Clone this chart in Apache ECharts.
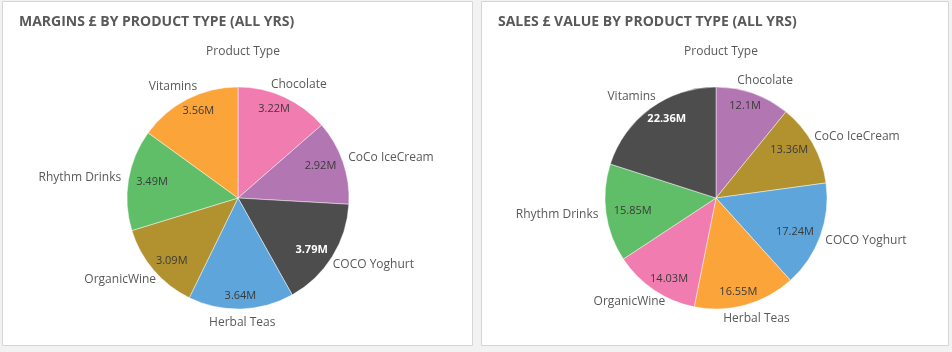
<!DOCTYPE html>
<html>
<head>
<meta charset="utf-8">
<script src="https://cdn.jsdelivr.net/npm/echarts@6/dist/echarts.min.js"></script>
<style>
  html, body { margin: 0; padding: 0; background: #f2f2f2; }
  #chart { width: 952px; height: 352px; }
</style>
</head>
<body>
<div id="chart"></div>
<script>
// 产品类型（顺时针，从 12 点开始）
var productTypes = ["Chocolate", "CoCo IceCream", "COCO Yoghurt", "Herbal Teas", "OrganicWine", "Rhythm Drinks", "Vitamins"];
// 利润（百万英镑）
var marginValues = [3.22, 2.92, 3.79, 3.64, 3.09, 3.49, 3.56];
// 销售额（百万英镑）
var salesValues = [12.1, 13.36, 17.24, 16.55, 14.03, 15.85, 22.36];
// 颜色
var marginColors = ["#F17CB0", "#B276B2", "#4D4D4D", "#5DA5DA", "#B2912F", "#60BD68", "#FAA43A"];
var salesColors = ["#B276B2", "#B2912F", "#5DA5DA", "#FAA43A", "#F17CB0", "#60BD68", "#4D4D4D"];

(function () {
  var myChart = echarts.init(document.getElementById("chart"));
  var font = "'Open Sans', 'Noto Sans', sans-serif";
  var textColor = "#595959";
  var R = 111;

  // 每个扇区中线角度（从 12 点顺时针，弧度）
  function midAngles(values) {
    var total = values.reduce(function (a, b) { return a + b; }, 0);
    var cum = 0;
    return values.map(function (v) {
      var a = ((cum + v / 2) / total) * Math.PI * 2;
      cum += v;
      return a;
    });
  }

  // 标签布局：外侧标签贴在圆外，内侧数值贴在圆内边缘
  function labelLayoutFn(values, center, dist, dir) {
    var angles = midAngles(values);
    return function (params) {
      var t = angles[params.dataIndex];
      var s = Math.sin(t), c = -Math.cos(t);
      var w = params.labelRect.width, h = params.labelRect.height;
      return {
        x: center[0] + dist * s + dir * (w / 2) * s,
        y: center[1] + dist * c + dir * (h / 2) * c,
        align: "center",
        verticalAlign: "middle",
      };
    };
  }

  function sliceData(values, colors) {
    return productTypes.map(function (name, i) {
      return { name: name, value: values[i], itemStyle: { color: colors[i] } };
    });
  }
  function valueData(values, colors) {
    return productTypes.map(function (name, i) {
      var dark = colors[i] === "#4D4D4D";
      return {
        name: name,
        value: values[i],
        label: {
          color: dark ? "#ffffff" : "#3a3a3a",
          fontWeight: dark ? "bold" : "normal",
        },
      };
    });
  }
  function pieSeries(center, values, colors) {
    return [
      {
        type: "pie",
        center: center,
        radius: [0, R],
        startAngle: 90,
        avoidLabelOverlap: false,
        data: sliceData(values, colors),
        itemStyle: { borderColor: "rgba(255,255,255,0.45)", borderWidth: 1 },
        label: {
          show: true,
          position: "outside",
          formatter: "{b}",
          color: textColor,
          fontSize: 12,
          fontFamily: font,
        },
        labelLine: { show: false },
        labelLayout: labelLayoutFn(values, center, R + 8, 1),
        emphasis: { disabled: true },
      },
      {
        type: "pie",
        center: center,
        radius: [0, R],
        startAngle: 90,
        silent: true,
        avoidLabelOverlap: false,
        data: valueData(values, colors),
        itemStyle: { color: "transparent" },
        label: {
          show: true,
          position: "inside",
          formatter: "{c}M",
          fontSize: 11,
          fontFamily: font,
        },
        labelLine: { show: false },
        labelLayout: labelLayoutFn(values, center, R - 8, -1),
        emphasis: { disabled: true },
      },
    ];
  }

  var option = {
    backgroundColor: "#f2f2f2",
    animation: false,
    graphic: [
      { type: "rect", shape: { x: 2.5, y: 1.5, width: 470, height: 344 }, style: { fill: "#fff", stroke: "#d6d6d6", lineWidth: 1 }, z: -10 },
      { type: "rect", shape: { x: 481.5, y: 1.5, width: 467, height: 344 }, style: { fill: "#fff", stroke: "#d6d6d6", lineWidth: 1 }, z: -10 },
    ],
    title: [
      {
        text: "MARGINS £ BY PRODUCT TYPE (ALL YRS)",
        left: 14, top: 10,
        textStyle: { color: textColor, fontSize: 14, fontWeight: "bold", fontFamily: font },
      },
      {
        text: "SALES £ VALUE BY PRODUCT TYPE (ALL YRS)",
        left: 493, top: 10,
        textStyle: { color: textColor, fontSize: 14, fontWeight: "bold", fontFamily: font },
      },
      {
        text: "Product Type",
        left: 238, top: 41, textAlign: "center",
        textStyle: { color: textColor, fontSize: 12, fontWeight: "normal", fontFamily: font },
      },
      {
        text: "Product Type",
        left: 716, top: 41, textAlign: "center",
        textStyle: { color: textColor, fontSize: 12, fontWeight: "normal", fontFamily: font },
      },
    ],
    series: pieSeries([238, 198], marginValues, marginColors).concat(
      pieSeries([716, 198], salesValues, salesColors)
    ),
  };

  myChart.setOption(option);
  window.addEventListener("resize", function () {
    myChart.resize();
  });
})();
</script>
</body>
</html>
